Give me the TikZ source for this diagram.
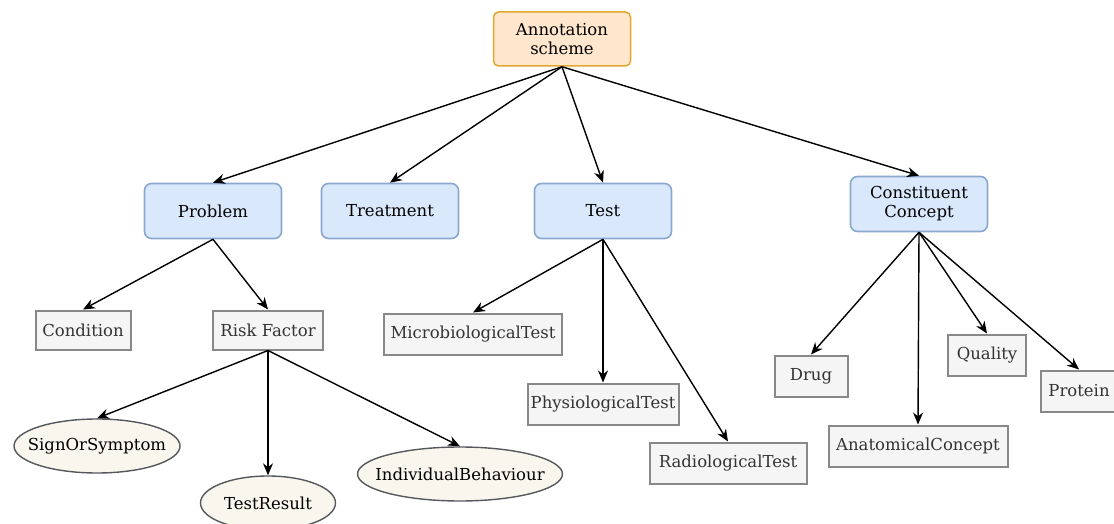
\documentclass[tikz,border=0pt]{standalone}
\usepackage{fontspec}
\setmainfont{DejaVu Serif}
\usepackage{tikz}
\usetikzlibrary{arrows.meta,shapes.geometric}

\definecolor{topfill}{HTML}{FFE6CC}
\definecolor{topline}{HTML}{E0A82E}
\definecolor{catfill}{HTML}{DAE8FC}
\definecolor{catline}{HTML}{8AA7D0}
\definecolor{leaffill}{HTML}{F5F5F5}
\definecolor{leafline}{HTML}{888888}
\definecolor{ovfill}{HTML}{F9F7ED}
\definecolor{ovline}{HTML}{55585C}

\begin{document}
\begin{tikzpicture}[
  x=1pt, y=-1pt,
  font=\fontsize{16.5}{19}\selectfont,
  top/.style={draw=topline, fill=topfill, rounded corners=5pt, align=center,
              minimum width=137pt, minimum height=54pt, line width=1.5pt},
  cat/.style={draw=catline, fill=catfill, rounded corners=7pt, align=center,
              minimum width=137pt, minimum height=55pt, line width=1.6pt},
  leaf/.style={draw=leafline, fill=leaffill, text=black!80, minimum height=41pt,
               inner xsep=2pt, line width=2pt},
  oval/.style={ellipse, draw=ovline, fill=ovfill, minimum height=54pt,
               inner xsep=-14pt, inner ysep=0pt, line width=1.4pt},
  arr/.style={-{Stealth[length=12pt,width=10pt]}, line width=1.4pt}
]
\useasboundingbox (0,0) rectangle (1114,524);

% root and categories
\node[top] (ann) at (562,39) {Annotation\\scheme};
\node[cat] (prob) at (213,211) {Problem};
\node[cat] (treat) at (390,211) {Treatment};
\node[cat] (test) at (603,211) {Test};
\node[cat] (cons) at (919,204) {Constituent\\Concept};

% problem branch
\node[leaf, minimum height=39pt, minimum width=95pt] (cond) at (83,330) {Condition};
\node[leaf, minimum height=39pt, minimum width=110pt] (risk) at (268,330) {Risk Factor};
\node[oval, minimum width=166pt] (sign) at (97,446) {SignOrSymptom};
\node[oval, minimum width=135pt] (tres) at (268,503) {TestResult};
\node[oval, minimum width=205pt] (indiv) at (460,474) {IndividualBehaviour};

% test branch
\node[leaf, minimum width=178pt] (micro) at (473,334) {MicrobiologicalTest};
\node[leaf, minimum width=151pt] (phys) at (603,404) {PhysiologicalTest};
\node[leaf, minimum width=157pt] (radio) at (728,463) {RadiologicalTest};

% constituent branch
\node[leaf, minimum width=73pt] (drug) at (811,376) {Drug};
\node[leaf, minimum width=179pt] (anat) at (918,446) {AnatomicalConcept};
\node[leaf, minimum width=78pt] (qual) at (987,355) {Quality};
\node[leaf, minimum width=76pt] (prot) at (1079,391) {Protein};

\foreach \c in {prob,treat,test,cons}
  \draw[arr] (ann.south) -- (\c.north);
\foreach \c in {cond,risk}
  \draw[arr] (prob.south) -- (\c.north);
\foreach \c in {sign,tres,indiv}
  \draw[arr] (risk.south) -- (\c.north);
\foreach \c in {micro,phys,radio}
  \draw[arr] (test.south) -- (\c.north);
\foreach \c in {drug,anat,qual,prot}
  \draw[arr] (cons.south) -- (\c.north);
\end{tikzpicture}
\end{document}
